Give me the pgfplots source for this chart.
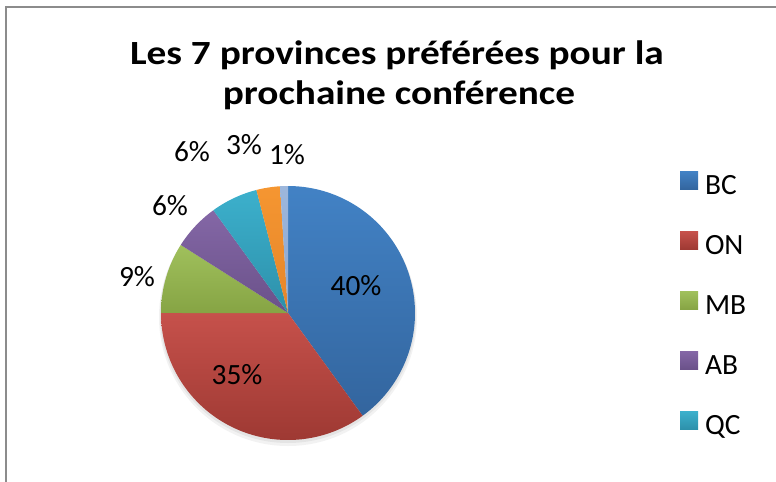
\documentclass[border=0pt]{standalone}
\usepackage{pgfplots}
\pgfplotsset{compat=1.18}
\usepackage{pgfplotstable}
\usepackage{fontspec}
\setmainfont{Carlito}
\newfontfamily\titlefont[FakeStretch=1.16]{Carlito}

\definecolor{sT0}{HTML}{4282C5}\definecolor{sB0}{HTML}{33659E}
\definecolor{sT1}{HTML}{C6514B}\definecolor{sB1}{HTML}{9E3933}
\definecolor{sT2}{HTML}{A0C05C}\definecolor{sB2}{HTML}{86A444}
\definecolor{sT3}{HTML}{8467A6}\definecolor{sB3}{HTML}{6A5189}
\definecolor{sT4}{HTML}{3CB0CC}\definecolor{sB4}{HTML}{2D90AA}
\definecolor{sT5}{HTML}{F59631}\definecolor{sB5}{HTML}{E5852A}
\definecolor{sT6}{HTML}{9DB7DC}\definecolor{sB6}{HTML}{8BA6CE}

\pgfplotstableread{
name value
BC 40
ON 35
MB 9
AB 6
QC 6
X1 3
X2 1
}\pietable

\begin{document}
\begin{tikzpicture}
\useasboundingbox (0,0) rectangle (776bp,482bp);
\gdef\cum{0}
\begin{axis}[
  at={(0,0)}, anchor=south west,
  scale only axis, width=776bp, height=482bp,
  xmin=0, xmax=776, ymin=0, ymax=482, y dir=reverse,
  hide axis, clip=false,
  legend entries={BC,ON,MB,AB,QC},
  legend cell align=left,
  legend style={at={(0.87629,0.65353)}, anchor=north west, draw=none, fill=none,
    inner sep=0pt, outer sep=0pt, font=\fontsize{29.5}{29.5}\selectfont, row sep=33bp,
    nodes={inner sep=0pt, text height=27bp, text depth=0bp}},
  legend image code/.code={\fill[#1] (0bp,-9bp) rectangle (18bp,9bp); \path (25bp,0bp);},
]
% soft shadow
\fill[black, opacity=0.05] (axis cs:288,317) circle[radius=129bp];
\fill[black, opacity=0.06] (axis cs:288,315) circle[radius=128bp];
\pgfplotsinvokeforeach{0,...,6}{
  \pgfplotstablegetelem{#1}{value}\of\pietable
  \pgfmathsetmacro\angA{90-3.6*\cum}
  \pgfmathsetmacro\newcum{\cum+\pgfplotsretval}
  \global\let\cum\newcum
  \pgfmathsetmacro\angB{90-3.6*\cum}
  \edef\doslice{\noexpand\addplot[draw=none, top color=sT#1, bottom color=sB#1, domain=\angB:\angA, samples=90] ({288+127*cos(x)},{313-127*sin(x)}) -- (axis cs:288,313) -- cycle;}
  \doslice
}
% border
\draw[color=black!45, line width=1.5bp] (axis cs:6,482) -- (axis cs:6,7) -- (axis cs:776,7);
% title
\node[font=\titlefont\bfseries\fontsize{34}{39}\selectfont, anchor=base] at (axis cs:397,64.5) {Les 7 provinces préférées pour la};
\node[font=\titlefont\bfseries\fontsize{34}{39}\selectfont, anchor=base] at (axis cs:399,104) {prochaine conférence};
% data labels
\tikzset{lbl/.style={font=\fontsize{29.5}{29.5}\selectfont, inner sep=0pt}}
\node[lbl] at (axis cs:356,286) {40\%};
\node[lbl] at (axis cs:237,375) {35\%};
\node[lbl] at (axis cs:137,277) {9\%};
\node[lbl] at (axis cs:170,206) {6\%};
\node[lbl] at (axis cs:192,152) {6\%};
\node[lbl] at (axis cs:244,145) {3\%};
\node[lbl] at (axis cs:287,155) {1\%};
\end{axis}
\end{tikzpicture}
\end{document}
